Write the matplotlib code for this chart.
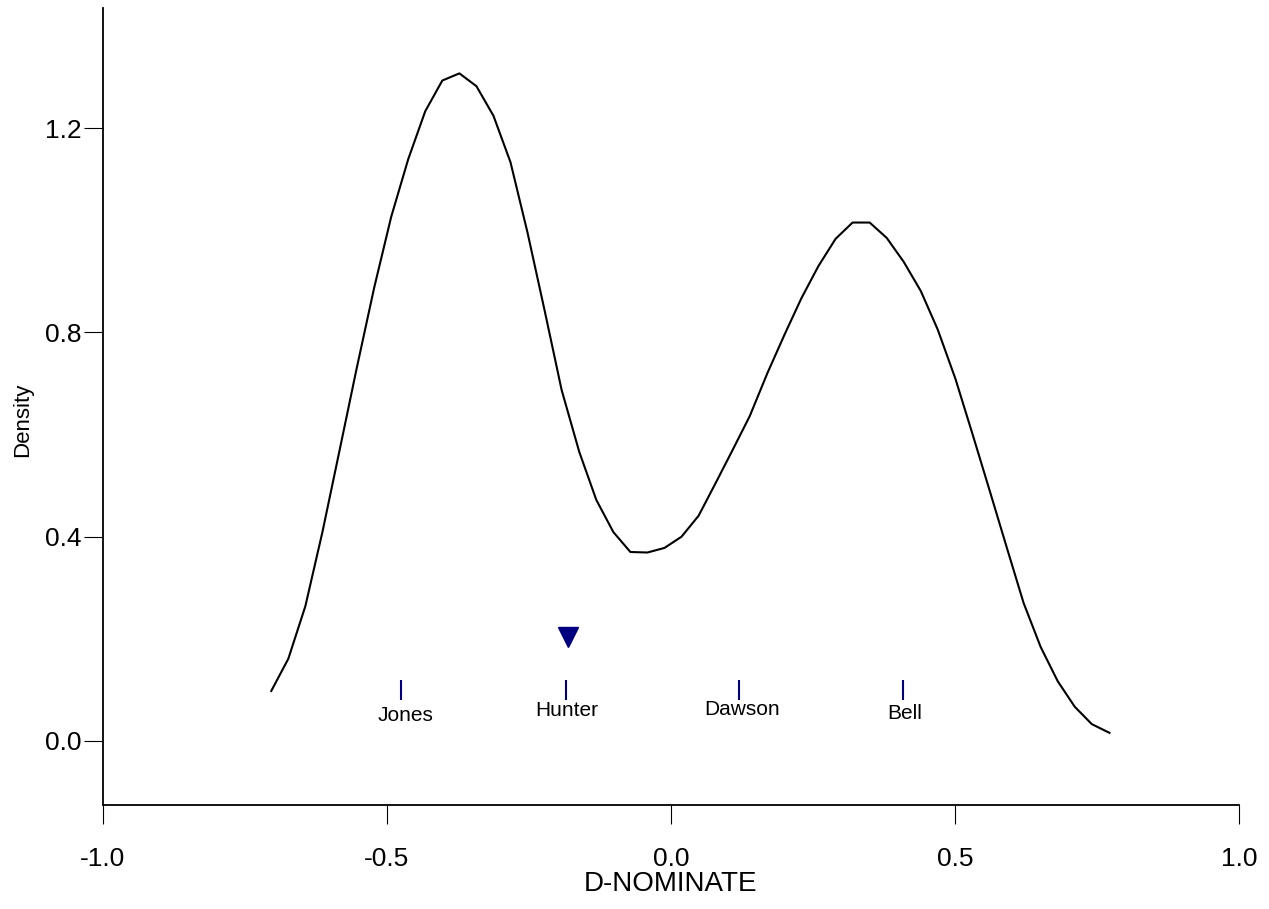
import matplotlib
matplotlib.use("Agg")
import matplotlib.pyplot as plt

plt.rcParams["font.family"] = ["Liberation Sans", "DejaVu Sans"]

# density curve (evaluation grid of the kde)
dnom = [-0.703, -0.673, -0.643, -0.613, -0.583, -0.553, -0.522, -0.492, -0.462, -0.432,
        -0.402, -0.372, -0.342, -0.312, -0.282, -0.252, -0.222, -0.192, -0.161, -0.131,
        -0.101, -0.071, -0.041, -0.011, 0.019, 0.049, 0.079, 0.109, 0.139, 0.170,
        0.200, 0.230, 0.260, 0.290, 0.320, 0.350, 0.380, 0.410, 0.440, 0.470,
        0.501, 0.531, 0.561, 0.591, 0.621, 0.651, 0.681, 0.711, 0.741, 0.772]
density = [0.098, 0.161, 0.264, 0.409, 0.568, 0.728, 0.887, 1.026, 1.139, 1.233,
           1.293, 1.307, 1.282, 1.224, 1.133, 0.995, 0.843, 0.687, 0.566, 0.472,
           0.409, 0.370, 0.369, 0.378, 0.400, 0.441, 0.505, 0.570, 0.636, 0.720,
           0.795, 0.867, 0.930, 0.983, 1.015, 1.015, 0.985, 0.938, 0.881, 0.805,
           0.709, 0.601, 0.491, 0.380, 0.270, 0.184, 0.117, 0.067, 0.033, 0.016]

# candidates
cand_names = ["Jones", "Hunter", "Dawson", "Bell"]
cand_x = [-0.475, -0.185, 0.120, 0.409]
cand_tick_y = 0.10
cand_label_x = [-0.467, -0.183, 0.125, 0.412]
cand_label_y = [0.049, 0.059, 0.061, 0.053]

# median voter marker
median_x = -0.180
median_y = 0.204

fig = plt.figure(figsize=(12.69, 9.09), dpi=100)
ax = fig.add_axes([102.5 / 1269, 104 / 909, 1136.5 / 1269, 797 / 909])

ax.plot(dnom, density, color="black", linewidth=1.5)

ax.plot(cand_x, [cand_tick_y] * len(cand_x), linestyle="none", marker="|",
        markersize=14, markeredgewidth=1.5, color="navy")
for name, x, y in zip(cand_names, cand_label_x, cand_label_y):
    ax.text(x, y, name, ha="center", va="center", fontsize=15, color="black")

ax.plot([median_x], [median_y], marker="v", markersize=14, color="navy",
        linestyle="none")

ax.set_xlim(-1.0, 1.0)
ax.set_ylim(-0.1253, 1.435)
ax.set_xticks([-1.0, -0.5, 0.0, 0.5, 1.0])
ax.set_xticklabels(["-1.0", "-0.5", "0.0", "0.5", "1.0"])
ax.set_yticks([0.0, 0.4, 0.8, 1.2])
ax.set_yticklabels(["0.0", "0.4", "0.8", "1.2"])

ax.spines["top"].set_visible(False)
ax.spines["right"].set_visible(False)
ax.spines["left"].set_linewidth(1.3)
ax.spines["bottom"].set_linewidth(1.3)
ax.tick_params(axis="x", length=14, width=0.8, labelsize=19, pad=16)
ax.tick_params(axis="y", length=14, width=0.8, labelsize=19, pad=1)

ax.set_xlabel("D-NOMINATE", fontsize=20, labelpad=0)
ax.set_ylabel("Density", fontsize=16)
ax.yaxis.set_label_coords(-0.061, 0.483)

fig.savefig("out.png", dpi=100)
